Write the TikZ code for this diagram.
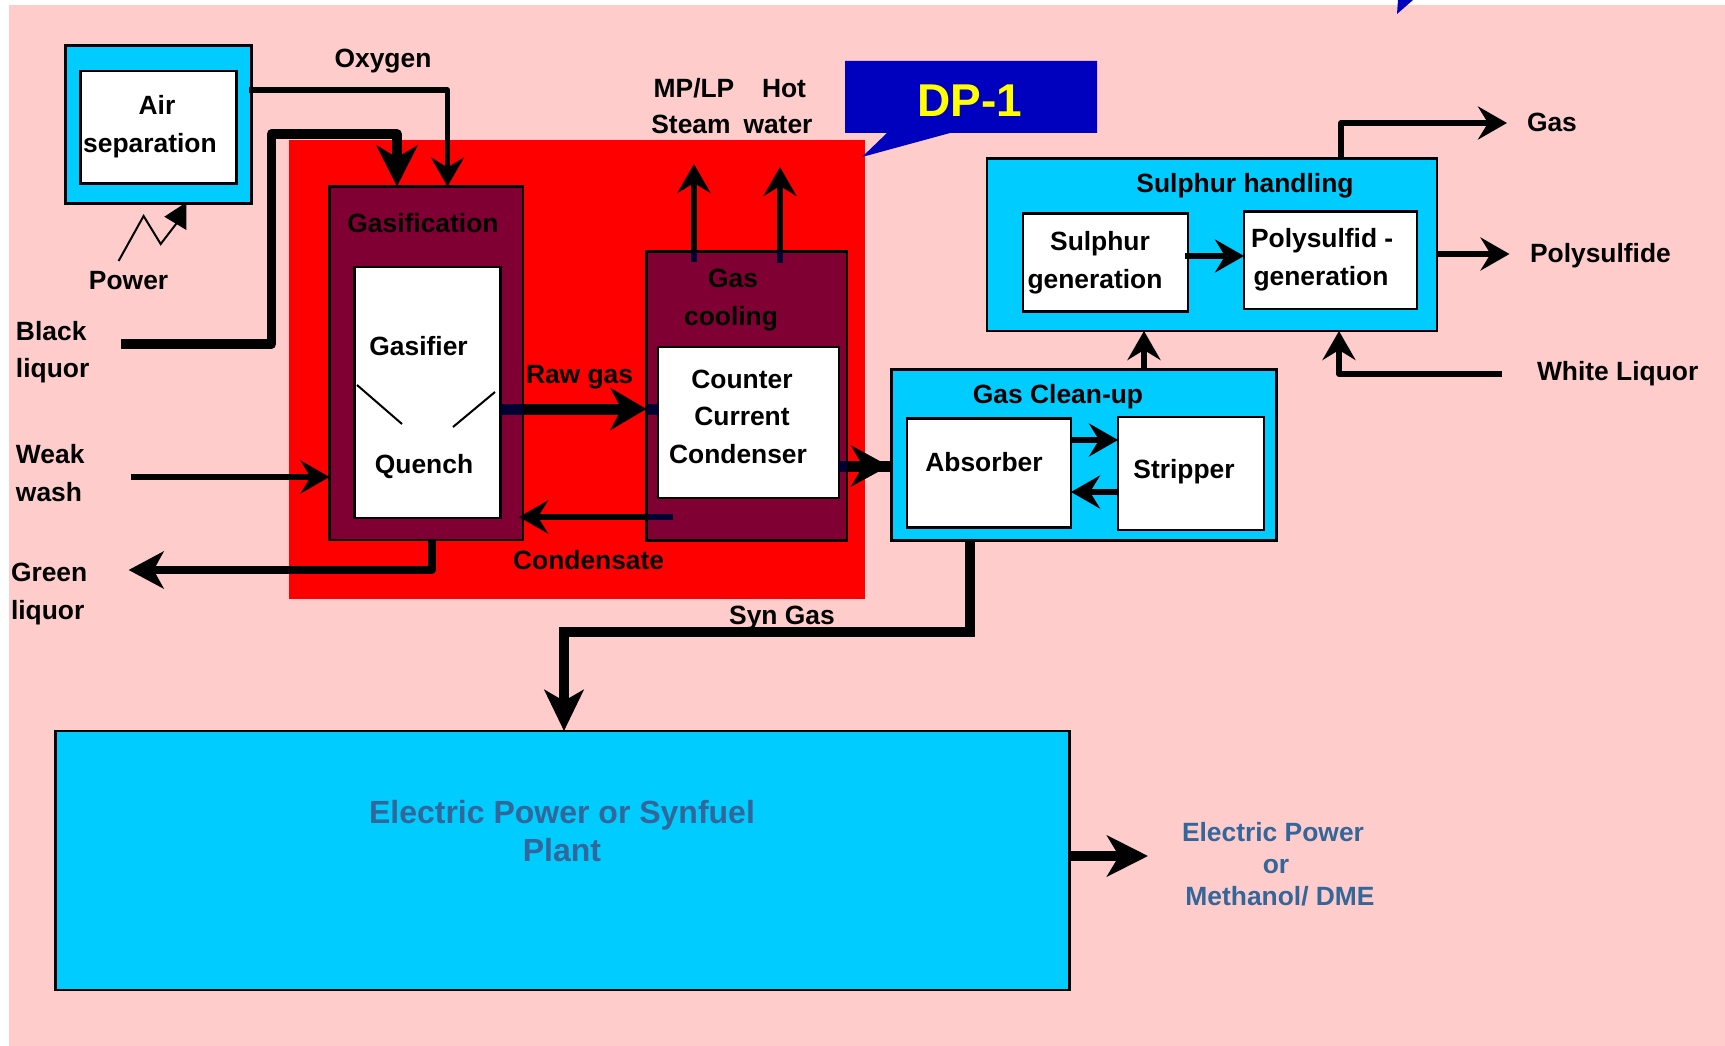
\documentclass[tikz,border=0pt]{standalone}
\usepackage{fontspec}
\setmainfont{Liberation Sans}
\usetikzlibrary{arrows.meta}
\definecolor{pinkbg}{HTML}{FFCCCC}
\definecolor{maroon}{HTML}{800033}
\definecolor{cyanb}{HTML}{00CCFF}
\definecolor{navyd}{HTML}{000033}
\definecolor{calloutb}{HTML}{0000BF}
\definecolor{steel}{HTML}{336699}
\definecolor{dpy}{HTML}{FFFF00}
\tikzset{
 frame/.style={draw=black,line width=2.8pt,inner sep=0pt,outer sep=0pt},
 cyanbox/.style={frame,fill=cyanb},
 maroonbox/.style={frame,fill=maroon},
 whitebox/.style={frame,fill=white},
 lab/.style={inner sep=0pt,outer sep=0pt,anchor=base,font=\fontsize{26.4}{30}\selectfont\bfseries},
 labw/.style={lab,anchor=base west},
 bluelab/.style={lab,text=steel},
 wire/.style={draw=black,line width=5.2pt,line join=round},
 fat/.style={draw=black,line width=9.5pt,line join=round},
 mid/.style={draw=black,line width=7.8pt,line join=round},
 ah/.style={-{Stealth[length=29pt,width=33pt,inset=10pt]}},
 ahm/.style={-{Stealth[length=35pt,width=37pt,inset=10pt]}},
 ahb/.style={-{Stealth[length=41pt,width=41pt,inset=12pt]}},
 ahr/.style={-{Stealth[length=36pt,width=42pt,inset=11pt]}},
}
\newcommand{\boxn}[6]{\node[#2,minimum width={(#5-#3)*1pt},minimum height={(#6-#4)*1pt}] (#1) at ({(#3+#5)/2},{(#4+#6)/2}) {};}
\begin{document}
\begin{tikzpicture}[x=1pt,y=-1pt]
\useasboundingbox (0,0) rectangle (1725,1046);
\fill[pinkbg] (9,5) rectangle (1725,1046);
\fill[red] (289,140) rectangle (865,599);
% off-page callout tail
\fill[calloutb] (1397,14) -- (1413,0) -- (1398,0) -- cycle;
% callout
\fill[calloutb] (845,61) -- (1097,61) -- (1097,133) -- (950,133) -- (862,157) -- (887,133) -- (845,133) -- cycle;
\node[lab,text=dpy,font=\fontsize{46}{50}\selectfont\bfseries] (dp) at (970,117) {DP-1};
% boxes
\boxn{air}{cyanbox}{65.5}{45.5}{251.5}{203.5}
\boxn{airin}{whitebox}{80.5}{71}{236.5}{183.5}
\boxn{gasif}{maroonbox}{329.5}{186.5}{523}{540}
\boxn{gasin}{whitebox}{354.5}{267}{500.5}{518}
\boxn{cool}{maroonbox}{646.5}{251.5}{847}{540.5}
\boxn{coolin}{whitebox}{658}{347}{839}{498}
\boxn{sul}{cyanbox}{987}{158.5}{1437}{331}
\boxn{sulgen}{whitebox}{1023}{213.5}{1188}{311.5}
\boxn{polygen}{whitebox}{1244}{211.5}{1417}{309}
\boxn{clean}{cyanbox}{891.5}{369.5}{1276.5}{540.5}
\boxn{absb}{whitebox}{907}{418.5}{1071}{527.5}
\boxn{strip}{whitebox}{1118}{417}{1264}{530}
\boxn{plant}{cyanbox}{55.5}{731}{1069.5}{990}
% helper coordinates
\coordinate (oxs) at (249,90);
\coordinate (oxb) at (447.5,90);
\coordinate (bls) at (121,344);
\coordinate (bl1) at (271.5,344);
\coordinate (bl2) at (271.5,134);
\coordinate (bl3) at (397,134);
\coordinate (rawy) at (0,409);
\coordinate (cony) at (0,517);
\coordinate (cone) at (673,517);
\coordinate (cont) at (519,517);
\coordinate (wws) at (131,477);
\coordinate (glx) at (432,0);
\coordinate (gl1) at (432,570);
\coordinate (gle) at (128.6,570);
\coordinate (cleany) at (0,466);
\coordinate (st1) at (694,262);
\coordinate (st2) at (694,164);
\coordinate (hw1) at (780,263);
\coordinate (hw2) at (780,167);
\coordinate (p1) at (118.6,261);
\coordinate (p2) at (143.6,216);
\coordinate (p3) at (160.7,244);
\coordinate (p4) at (176.8,223);
\coordinate (h1) at (186.4,202.3);
\coordinate (h2) at (164.3,216.7);
\coordinate (h3) at (186.4,230);
\coordinate (gasx) at (1341,0);
\coordinate (gasb) at (1341,123);
\coordinate (gase) at (1507,123);
\coordinate (polye) at (1509.5,254);
\coordinate (wls) at (1502,374);
\coordinate (wlb) at (1339,374);
\coordinate (cx) at (1144,0);
\coordinate (a1y) at (0,440);
\coordinate (a2y) at (0,492);
\coordinate (sgx) at (970,0);
\coordinate (sg1) at (970,632);
\coordinate (sg2) at (564,632);
\coordinate (outy) at (0,856);
\coordinate (oute) at (1148,856);
\coordinate (sgsy) at (0,256);
\coordinate (sgs) at (1184.5,256);
% connectors
\draw[wire,ah] (oxs) -- (oxb) -- (oxb |- gasif.north);
\draw[fat,ahb] (bls) -- (bl1) -- (bl2) -- (bl3) -- (bl3 |- gasif.north);
\draw[line width=2pt] (p1) -- (p2) -- (p3) -- (p4);
\fill (h1) -- (h2) -- (h3) -- cycle;
\draw[wire,ah] (wws) -- (wws -| gasif.west);
\draw[mid,ahm] (glx |- gasif.south) -- (gl1) -- (gle);
\draw[line width=2pt] (357,385) -- (402,424) (495,392) -- (453,427);
% raw gas
\draw[line width=11pt,draw=black,ahr] (gasin.east |- rawy) -- (cool.west |- rawy);
\draw[line width=11pt,navyd] (gasin.east |- rawy) -- (gasif.east |- rawy);
\draw[line width=11pt,navyd] (cool.west |- rawy) -- (coolin.west |- rawy);
% condensate
\draw[wire,ah] (cone) -- (cont);
\draw[line width=5.2pt,navyd] (cool.west |- cony) -- (cone);
% steam, hot water
\draw[line width=5.5pt,ah] (st1) -- (st2);
\draw[line width=5.5pt,navyd] (st1) -- (st1 |- cool.north);
\draw[line width=5.5pt,ah] (hw1) -- (hw2);
\draw[line width=5.5pt,navyd] (hw1) -- (hw1 |- cool.north);
% to gas clean-up
\draw[line width=11pt] (coolin.east |- cleany) -- (clean.west |- cleany);
\draw[line width=11pt,navyd] (coolin.east |- cleany) -- (cool.east |- cleany);
\draw[line width=6pt,-{Stealth[length=38pt,width=41pt,inset=12pt]}] (850,466) -- (889,466);
% sulphur
\draw[wire,ah] (sgs) -- (polygen.west |- sgs);
\draw[wire,ah] (gasx |- sul.north) -- (gasb) -- (gase);
\draw[wire,ah] (sul.east |- polye) -- (polye);
\draw[wire,ah] (wls) -- (wlb) -- (wlb |- sul.south);
\draw[wire,ah] (cx |- clean.north) -- (cx |- sul.south);
% clean-up internal
\draw[line width=5.5pt,ah] (absb.east |- a1y) -- (strip.west |- a1y);
\draw[wire,ah] (strip.west |- a2y) -- (absb.east |- a2y);
% syn gas
\draw[fat,-{Stealth[length=41pt,width=39pt,inset=11pt]},line join=miter] (sgx |- clean.south) -- (sg1) -- (sg2) -- (sg2 |- plant.north);
% output
\draw[line width=10pt,ahb] (plant.east |- outy) -- (oute);
% labels
\node[lab] (t1) at (157,115) {Air};
\node[lab] (t2) at (150,153) {separation};
\node[lab] (t3) at (383,68) {Oxygen};
\node[lab] (t4) at (128.6,289) {Power};
\node[labw] (t5) at (16,340) {Black};
\node[labw] (t6) at (16,377) {liquor};
\node[labw] (t7) at (16,463) {Weak};
\node[labw] (t8) at (16,501) {wash};
\node[labw] (t9) at (11,581) {Green};
\node[labw] (t10) at (11,619) {liquor};
\node[lab] (t11) at (423,232) {Gasification};
\node[lab] (t12) at (418.6,355) {Gasifier};
\node[lab] (t13) at (424,473) {Quench};
\node[labw] (t14) at (526,383) {Raw gas};
\node[lab] (t15) at (588.6,569) {Condensate};
\node[lab] (t16) at (694,98) {MP/LP};
\node[lab] (t17) at (691,134) {Steam};
\node[lab] (t18) at (784,98) {Hot};
\node[lab] (t19) at (778,134) {water};
\node[lab] (t20) at (733,287) {Gas};
\node[lab] (t21) at (731,325) {cooling};
\node[lab] (t22) at (742,388) {Counter};
\node[lab] (t23) at (742,425) {Current};
\node[lab] (t24) at (738,463) {Condenser};
\node[lab] (t25) at (1245,193) {Sulphur handling};
\node[lab] (t26) at (1100,250.5) {Sulphur};
\node[lab] (t27) at (1095,288) {generation};
\node[labw] (t28) at (1251,247) {Polysulfid -};
\node[lab] (t29) at (1321,285) {generation};
\node[labw] (t30) at (1527,132) {Gas};
\node[labw] (t31) at (1530,262) {Polysulfide};
\node[labw] (t32) at (1537,380) {White Liquor};
\node[lab] (t33) at (1058,403) {Gas Clean-up};
\node[lab] (t34) at (984,471) {Absorber};
\node[lab] (t35) at (1184,478) {Stripper};
\node[lab] (t36) at (782,624) {Syn Gas};
\node[bluelab,font=\fontsize{32}{36}\selectfont\bfseries] (t37) at (562,823) {Electric Power or Synfuel};
\node[bluelab,font=\fontsize{32}{36}\selectfont\bfseries] (t38) at (562,861) {Plant};
\node[bluelab] (t39) at (1273,841.5) {Electric Power};
\node[bluelab] (t40) at (1276,873) {or};
\node[bluelab] (t41) at (1280,905) {Methanol/ DME};
\end{tikzpicture}
\end{document}
